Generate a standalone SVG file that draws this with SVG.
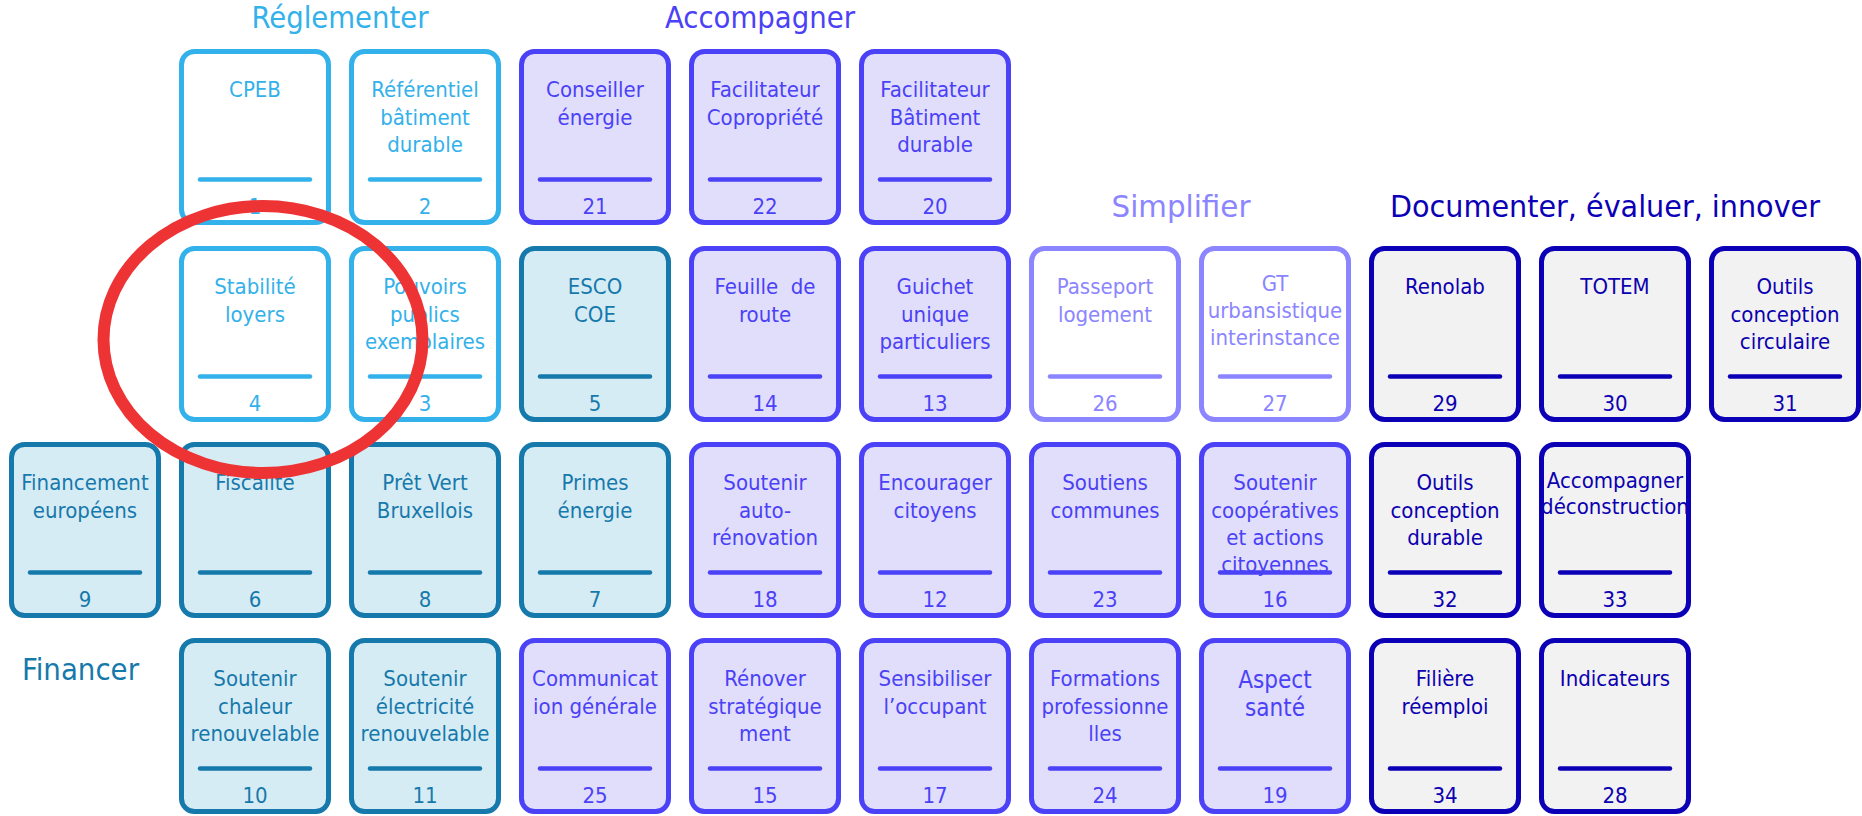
<svg xmlns="http://www.w3.org/2000/svg" width="1862" height="816" viewBox="0 0 1862 816">
<style>
text{font-family:"DejaVu Sans Condensed","DejaVu Sans","Liberation Sans",sans-serif;font-stretch:condensed;text-anchor:middle}
.card rect{stroke-width:5}
.card line{stroke-width:4.5;stroke-linecap:round}
.card text{font-size:22px}
.hdr{font-size:30px}
.reg rect{fill:#FFFFFF;stroke:#33B1EA}.reg line{stroke:#33B1EA}.reg text{fill:#33B1EA}
.fin rect{fill:#D6ECF4;stroke:#1679AC}.fin line{stroke:#1679AC}.fin text{fill:#1679AC}
.acc rect{fill:#E0DEFB;stroke:#4B41F7}.acc line{stroke:#4B41F7}.acc text{fill:#4B41F7}
.sim rect{fill:#FFFFFF;stroke:#8B85FF}.sim line{stroke:#8B85FF}.sim text{fill:#8B85FF}
.doc rect{fill:#F2F2F2;stroke:#0C00B6}.doc line{stroke:#0C00B6}.doc text{fill:#0C00B0}
</style>

<g id="headers">
<text class="hdr" x="340" y="28" fill="#33B1EA" textLength="177" lengthAdjust="spacingAndGlyphs">Réglementer</text>
<text class="hdr" x="760" y="28" fill="#4B41F7" textLength="190" lengthAdjust="spacingAndGlyphs">Accompagner</text>
<text class="hdr" x="1181" y="217" fill="#8B85FF" textLength="139" lengthAdjust="spacingAndGlyphs">Simplifier</text>
<text class="hdr" x="1605" y="217" fill="#0C00B6" textLength="430" lengthAdjust="spacingAndGlyphs">Documenter, évaluer, innover</text>
<text class="hdr" x="22" y="680" fill="#1679AC" style="text-anchor:start" textLength="117" lengthAdjust="spacingAndGlyphs">Financer</text>
</g>

<g id="connectors"></g>

<!-- Row 1 -->
<g id="card-1" class="card reg" transform="translate(179,49)"><rect x="2.5" y="2.5" width="147" height="171" rx="13"/><line x1="21" y1="130.5" x2="131" y2="130.5"/><text x="76" y="48">CPEB</text><text x="76" y="165">1</text></g>
<g id="card-2" class="card reg" transform="translate(349,49)"><rect x="2.5" y="2.5" width="147" height="171" rx="13"/><line x1="21" y1="130.5" x2="131" y2="130.5"/><text x="76" y="48">Référentiel</text><text x="76" y="75.5">bâtiment</text><text x="76" y="103">durable</text><text x="76" y="165">2</text></g>
<g id="card-21" class="card acc" transform="translate(519,49)"><rect x="2.5" y="2.5" width="147" height="171" rx="13"/><line x1="21" y1="130.5" x2="131" y2="130.5"/><text x="76" y="48">Conseiller</text><text x="76" y="75.5">énergie</text><text x="76" y="165">21</text></g>
<g id="card-22" class="card acc" transform="translate(689,49)"><rect x="2.5" y="2.5" width="147" height="171" rx="13"/><line x1="21" y1="130.5" x2="131" y2="130.5"/><text x="76" y="48">Facilitateur</text><text x="76" y="75.5">Copropriété</text><text x="76" y="165">22</text></g>
<g id="card-20" class="card acc" transform="translate(859,49)"><rect x="2.5" y="2.5" width="147" height="171" rx="13"/><line x1="21" y1="130.5" x2="131" y2="130.5"/><text x="76" y="48">Facilitateur</text><text x="76" y="75.5">Bâtiment</text><text x="76" y="103">durable</text><text x="76" y="165">20</text></g>

<!-- Row 2 -->
<g id="card-4" class="card reg" transform="translate(179,246)"><rect x="2.5" y="2.5" width="147" height="171" rx="13"/><line x1="21" y1="130.5" x2="131" y2="130.5"/><text x="76" y="48">Stabilité</text><text x="76" y="75.5">loyers</text><text x="76" y="165">4</text></g>
<g id="card-3" class="card reg" transform="translate(349,246)"><rect x="2.5" y="2.5" width="147" height="171" rx="13"/><line x1="21" y1="130.5" x2="131" y2="130.5"/><text x="76" y="48">Pouvoirs</text><text x="76" y="75.5">publics</text><text x="76" y="103">exemplaires</text><text x="76" y="165">3</text></g>
<g id="card-5" class="card fin" transform="translate(519,246)"><rect x="2.5" y="2.5" width="147" height="171" rx="13"/><line x1="21" y1="130.5" x2="131" y2="130.5"/><text x="76" y="48">ESCO</text><text x="76" y="75.5">COE</text><text x="76" y="165">5</text></g>
<g id="card-14" class="card acc" transform="translate(689,246)"><rect x="2.5" y="2.5" width="147" height="171" rx="13"/><line x1="21" y1="130.5" x2="131" y2="130.5"/><text x="76" y="48" style="white-space:pre">Feuille  de</text><text x="76" y="75.5">route</text><text x="76" y="165">14</text></g>
<g id="card-13" class="card acc" transform="translate(859,246)"><rect x="2.5" y="2.5" width="147" height="171" rx="13"/><line x1="21" y1="130.5" x2="131" y2="130.5"/><text x="76" y="48">Guichet</text><text x="76" y="75.5">unique</text><text x="76" y="103">particuliers</text><text x="76" y="165">13</text></g>
<g id="card-26" class="card sim" transform="translate(1029,246)"><rect x="2.5" y="2.5" width="147" height="171" rx="13"/><line x1="21" y1="130.5" x2="131" y2="130.5"/><text x="76" y="48">Passeport</text><text x="76" y="75.5">logement</text><text x="76" y="165">26</text></g>
<g id="card-27" class="card sim" transform="translate(1199,246)"><rect x="2.5" y="2.5" width="147" height="171" rx="13"/><line x1="21" y1="130.5" x2="131" y2="130.5"/><text x="76" y="45">GT</text><text x="76" y="72">urbansistique</text><text x="76" y="99">interinstance</text><text x="76" y="165">27</text></g>
<g id="card-29" class="card doc" transform="translate(1369,246)"><rect x="2.5" y="2.5" width="147" height="171" rx="13"/><line x1="21" y1="130.5" x2="131" y2="130.5"/><text x="76" y="48">Renolab</text><text x="76" y="165">29</text></g>
<g id="card-30" class="card doc" transform="translate(1539,246)"><rect x="2.5" y="2.5" width="147" height="171" rx="13"/><line x1="21" y1="130.5" x2="131" y2="130.5"/><text x="76" y="48">TOTEM</text><text x="76" y="165">30</text></g>
<g id="card-31" class="card doc" transform="translate(1709,246)"><rect x="2.5" y="2.5" width="147" height="171" rx="13"/><line x1="21" y1="130.5" x2="131" y2="130.5"/><text x="76" y="48">Outils</text><text x="76" y="75.5">conception</text><text x="76" y="103">circulaire</text><text x="76" y="165">31</text></g>

<!-- Row 3 -->
<g id="card-9" class="card fin" transform="translate(9,442)"><rect x="2.5" y="2.5" width="147" height="171" rx="13"/><line x1="21" y1="130.5" x2="131" y2="130.5"/><text x="76" y="48">Financement</text><text x="76" y="75.5">européens</text><text x="76" y="165">9</text></g>
<g id="card-6" class="card fin" transform="translate(179,442)"><rect x="2.5" y="2.5" width="147" height="171" rx="13"/><line x1="21" y1="130.5" x2="131" y2="130.5"/><text x="76" y="48">Fiscalité</text><text x="76" y="165">6</text></g>
<g id="card-8" class="card fin" transform="translate(349,442)"><rect x="2.5" y="2.5" width="147" height="171" rx="13"/><line x1="21" y1="130.5" x2="131" y2="130.5"/><text x="76" y="48">Prêt Vert</text><text x="76" y="75.5">Bruxellois</text><text x="76" y="165">8</text></g>
<g id="card-7" class="card fin" transform="translate(519,442)"><rect x="2.5" y="2.5" width="147" height="171" rx="13"/><line x1="21" y1="130.5" x2="131" y2="130.5"/><text x="76" y="48">Primes</text><text x="76" y="75.5">énergie</text><text x="76" y="165">7</text></g>
<g id="card-18" class="card acc" transform="translate(689,442)"><rect x="2.5" y="2.5" width="147" height="171" rx="13"/><line x1="21" y1="130.5" x2="131" y2="130.5"/><text x="76" y="48">Soutenir</text><text x="76" y="75.5">auto-</text><text x="76" y="103">rénovation</text><text x="76" y="165">18</text></g>
<g id="card-12" class="card acc" transform="translate(859,442)"><rect x="2.5" y="2.5" width="147" height="171" rx="13"/><line x1="21" y1="130.5" x2="131" y2="130.5"/><text x="76" y="48">Encourager</text><text x="76" y="75.5">citoyens</text><text x="76" y="165">12</text></g>
<g id="card-23" class="card acc" transform="translate(1029,442)"><rect x="2.5" y="2.5" width="147" height="171" rx="13"/><line x1="21" y1="130.5" x2="131" y2="130.5"/><text x="76" y="48">Soutiens</text><text x="76" y="75.5">communes</text><text x="76" y="165">23</text></g>
<g id="card-16" class="card acc" transform="translate(1199,442)"><rect x="2.5" y="2.5" width="147" height="171" rx="13"/><text x="76" y="48">Soutenir</text><text x="76" y="75.5">coopératives</text><text x="76" y="103">et actions</text><text x="76" y="130">citoyennes</text><line x1="21" y1="130.5" x2="131" y2="130.5"/><text x="76" y="165">16</text></g>
<g id="card-32" class="card doc" transform="translate(1369,442)"><rect x="2.5" y="2.5" width="147" height="171" rx="13"/><line x1="21" y1="130.5" x2="131" y2="130.5"/><text x="76" y="48">Outils</text><text x="76" y="75.5">conception</text><text x="76" y="103">durable</text><text x="76" y="165">32</text></g>
<g id="card-33" class="card doc" transform="translate(1539,442)"><rect x="2.5" y="2.5" width="147" height="171" rx="13"/><line x1="21" y1="130.5" x2="131" y2="130.5"/><text x="76" y="46">Accompagner</text><text x="76" y="72">déconstruction</text><text x="76" y="165">33</text></g>

<!-- Row 4 -->
<g id="card-10" class="card fin" transform="translate(179,638)"><rect x="2.5" y="2.5" width="147" height="171" rx="13"/><line x1="21" y1="130.5" x2="131" y2="130.5"/><text x="76" y="48">Soutenir</text><text x="76" y="75.5">chaleur</text><text x="76" y="103">renouvelable</text><text x="76" y="165">10</text></g>
<g id="card-11" class="card fin" transform="translate(349,638)"><rect x="2.5" y="2.5" width="147" height="171" rx="13"/><line x1="21" y1="130.5" x2="131" y2="130.5"/><text x="76" y="48">Soutenir</text><text x="76" y="75.5">électricité</text><text x="76" y="103">renouvelable</text><text x="76" y="165">11</text></g>
<g id="card-25" class="card acc" transform="translate(519,638)"><rect x="2.5" y="2.5" width="147" height="171" rx="13"/><line x1="21" y1="130.5" x2="131" y2="130.5"/><text x="76" y="48">Communicat</text><text x="76" y="75.5">ion générale</text><text x="76" y="165">25</text></g>
<g id="card-15" class="card acc" transform="translate(689,638)"><rect x="2.5" y="2.5" width="147" height="171" rx="13"/><line x1="21" y1="130.5" x2="131" y2="130.5"/><text x="76" y="48">Rénover</text><text x="76" y="75.5">stratégique</text><text x="76" y="103">ment</text><text x="76" y="165">15</text></g>
<g id="card-17" class="card acc" transform="translate(859,638)"><rect x="2.5" y="2.5" width="147" height="171" rx="13"/><line x1="21" y1="130.5" x2="131" y2="130.5"/><text x="76" y="48">Sensibiliser</text><text x="76" y="75.5">l’occupant</text><text x="76" y="165">17</text></g>
<g id="card-24" class="card acc" transform="translate(1029,638)"><rect x="2.5" y="2.5" width="147" height="171" rx="13"/><line x1="21" y1="130.5" x2="131" y2="130.5"/><text x="76" y="48">Formations</text><text x="76" y="75.5">professionne</text><text x="76" y="103">lles</text><text x="76" y="165">24</text></g>
<g id="card-19" class="card acc" transform="translate(1199,638)"><rect x="2.5" y="2.5" width="147" height="171" rx="13"/><line x1="21" y1="130.5" x2="131" y2="130.5"/><text x="76" y="50" style="font-size:24px">Aspect</text><text x="76" y="78" style="font-size:24px">santé</text><text x="76" y="165">19</text></g>
<g id="card-34" class="card doc" transform="translate(1369,638)"><rect x="2.5" y="2.5" width="147" height="171" rx="13"/><line x1="21" y1="130.5" x2="131" y2="130.5"/><text x="76" y="48">Filière</text><text x="76" y="75.5">réemploi</text><text x="76" y="165">34</text></g>
<g id="card-28" class="card doc" transform="translate(1539,638)"><rect x="2.5" y="2.5" width="147" height="171" rx="13"/><line x1="21" y1="130.5" x2="131" y2="130.5"/><text x="76" y="48">Indicateurs</text><text x="76" y="165">28</text></g>

<g id="highlight">
<ellipse cx="263" cy="339.5" rx="159.5" ry="133.5" fill="none" stroke="#EE3335" stroke-width="12"/>
</g>
</svg>
